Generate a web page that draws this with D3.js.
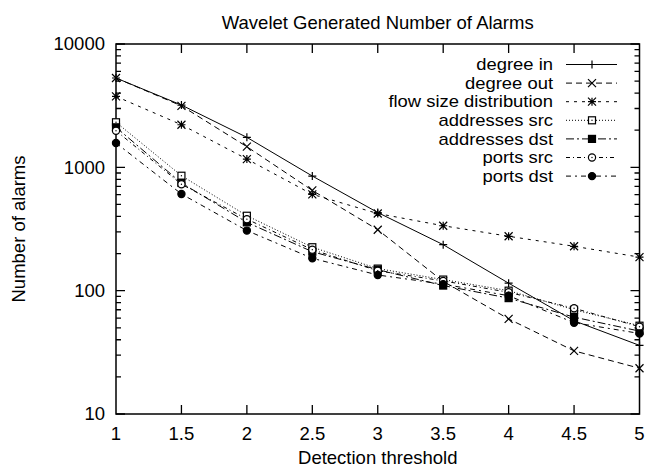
<!DOCTYPE html>
<html>
<head>
<meta charset="utf-8">
<script src="https://cdn.jsdelivr.net/npm/d3@7"></script>
<style>
  body { margin: 0; background: #fff; }
  text { font-family: 'Liberation Sans', Arial, sans-serif; fill: #000; }
</style>
</head>
<body>
<div id="root"></div>
<script>
// detection thresholds on the x axis
const thresholds = [1, 1.5, 2, 2.5, 3, 3.5, 4, 4.5, 5]
const xTicks = [1, 1.5, 2, 2.5, 3, 3.5, 4, 4.5, 5]
const yTicks = [10, 100, 1000, 10000]

// number of alarms per detector
const degreeIn = [5300, 3200, 1750, 850, 430, 236, 115, 57, 36]
const degreeOut = [5300, 3150, 1470, 650, 312, 119, 59, 32.5, 23.5]
const flowSize = [3760, 2215, 1167, 604, 422, 336, 276, 229, 187]
const addrSrc = [2320, 855, 405, 225, 151, 123, 100, 70, 52]
const addrDst = [2110, 747, 358, 207, 148, 110, 87, 61, 47]
const portsSrc = [1980, 730, 380, 215, 145, 120, 97, 72, 51]
const portsDst = [1575, 608, 307, 183, 134, 113, 91, 55, 45]

const seriesNames = ['degree in', 'degree out', 'flow size distribution', 'addresses src', 'addresses dst', 'ports src', 'ports dst']
const seriesValues = [degreeIn, degreeOut, flowSize, addrSrc, addrDst, portsSrc, portsDst]

// gnuplot-ish line and point types
const dashes = ['none', '6,4', '3,5', '1,2', '8,3,2,3', '4,3,1,3', '5,4,2,4']
const markers = ['plus', 'cross', 'star', 'square', 'squareFill', 'circle', 'circleFill']

const width = 645
const height = 468
const margin = { top: 44, right: 5.5, bottom: 54, left: 116 }
const fontSize = 18.5

const svg = d3.select('#root').append('svg')
  .attr('width', width)
  .attr('height', height)

const x = d3.scaleLinear()
  .domain([1, 5])
  .range([margin.left, width - margin.right])
const y = d3.scaleLog()
  .domain([10, 10000])
  .range([height - margin.bottom, margin.top])

// minor ticks of the log axis (2..9 in each decade)
const minorY = []
for (let p = 10; p < 10000; p *= 10) {
  for (let k = 2; k < 10; k++) minorY.push(p * k)
}

const majorLen = 9
const minorLen = 5
const axes = svg.append('g').attr('stroke', '#000').attr('stroke-width', 1.3)

// bottom + mirrored top ticks
axes.selectAll('.xt')
  .data(xTicks.slice(1, -1))
  .join('path')
  .attr('d', d => `M${x(d)},${y(10)}v${-majorLen}M${x(d)},${y(10000)}v${majorLen}`)

// left + mirrored right ticks
axes.selectAll('.yt')
  .data(yTicks)
  .join('path')
  .attr('d', d => `M${x(1)},${y(d)}h${majorLen}M${x(5)},${y(d)}h${-majorLen}`)
axes.selectAll('.ym')
  .data(minorY)
  .join('path')
  .attr('d', d => `M${x(1)},${y(d)}h${minorLen}M${x(5)},${y(d)}h${-minorLen}`)

svg.append('rect')
  .attr('x', x(1))
  .attr('y', y(10000))
  .attr('width', x(5) - x(1))
  .attr('height', y(10) - y(10000))
  .attr('fill', 'none')
  .attr('stroke', '#000')
  .attr('stroke-width', 1.5)

// tick labels
svg.append('g').selectAll('text')
  .data(xTicks)
  .join('text')
  .attr('x', d => x(d))
  .attr('y', 440)
  .attr('text-anchor', 'middle')
  .attr('font-size', fontSize)
  .text(d => d)
svg.append('g').selectAll('text')
  .data(yTicks)
  .join('text')
  .attr('x', 105)
  .attr('y', d => y(d))
  .attr('dy', '0.35em')
  .attr('text-anchor', 'end')
  .attr('font-size', fontSize)
  .text(d => d)

// titles
svg.append('text')
  .attr('x', (x(1) + x(5)) / 2)
  .attr('y', 29)
  .attr('text-anchor', 'middle')
  .attr('font-size', fontSize)
  .text('Wavelet Generated Number of Alarms')
svg.append('text')
  .attr('x', (x(1) + x(5)) / 2)
  .attr('y', 464)
  .attr('text-anchor', 'middle')
  .attr('font-size', fontSize)
  .text('Detection threshold')
svg.append('text')
  .attr('transform', `translate(25, ${(y(10) + y(10000)) / 2}) rotate(-90)`)
  .attr('text-anchor', 'middle')
  .attr('font-size', fontSize)
  .text('Number of alarms')

// point shapes, drawn around 0,0
function drawMarker (g, type) {
  const s = 4
  if (type === 'plus') {
    g.append('path').attr('d', `M${-s},0h${2 * s}M0,${-s}v${2 * s}`).attr('stroke', '#000').attr('stroke-width', 1.2)
  } else if (type === 'cross') {
    g.append('path').attr('d', `M${-s},${-s}L${s},${s}M${-s},${s}L${s},${-s}`).attr('stroke', '#000').attr('stroke-width', 1.2)
  } else if (type === 'star') {
    g.append('path').attr('d', `M${-s},0h${2 * s}M0,${-s}v${2 * s}M${-s},${-s}L${s},${s}M${-s},${s}L${s},${-s}`).attr('stroke', '#000').attr('stroke-width', 1.2)
  } else if (type === 'square' || type === 'squareFill') {
    g.append('rect').attr('x', -3.5).attr('y', -3.5).attr('width', 7).attr('height', 7)
      .attr('fill', type === 'square' ? '#fff' : '#000').attr('stroke', '#000').attr('stroke-width', 1.2)
    if (type === 'square') g.append('rect').attr('x', -0.6).attr('y', -0.6).attr('width', 1.2).attr('height', 1.2).attr('fill', '#000')
  } else {
    g.append('circle').attr('r', 3.6)
      .attr('fill', type === 'circle' ? '#fff' : '#000').attr('stroke', '#000').attr('stroke-width', 1.2)
    if (type === 'circle') g.append('circle').attr('r', 0.7).attr('fill', '#000')
  }
}

const line = d3.line()
  .x((d, i) => x(thresholds[i]))
  .y(d => y(d))

seriesValues.forEach((vals, si) => {
  svg.append('path')
    .datum(vals)
    .attr('d', line)
    .attr('fill', 'none')
    .attr('stroke', '#000')
    .attr('stroke-width', 1)
    .attr('stroke-dasharray', dashes[si])
  vals.forEach((v, i) => {
    const g = svg.append('g').attr('transform', `translate(${x(thresholds[i])},${y(v)})`)
    drawMarker(g, markers[si])
  })
})

// legend - rows sit tight, so a slightly smaller font stretched sideways
const legend = svg.append('g')
seriesNames.forEach((name, i) => {
  const cy = 64.5 + i * 18.6
  legend.append('text')
    .attr('transform', `translate(553, ${cy}) scale(1.15, 1)`)
    .attr('dy', '0.35em')
    .attr('text-anchor', 'end')
    .attr('font-size', 16)
    .text(name)
  legend.append('path')
    .attr('d', `M566,${cy}H617`)
    .attr('stroke', '#000')
    .attr('stroke-width', 1)
    .attr('stroke-dasharray', dashes[i])
  drawMarker(legend.append('g').attr('transform', `translate(592,${cy})`), markers[i])
})
</script>
</body>
</html>
